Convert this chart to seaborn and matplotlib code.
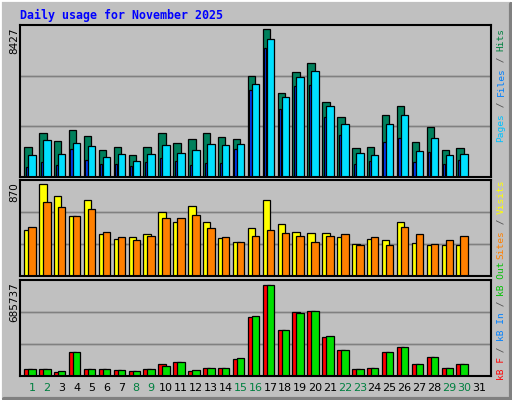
import numpy as np
import seaborn as sns
import matplotlib.pyplot as plt
from matplotlib.patches import Rectangle

days = np.arange(1, 31)
weekend_days = [1, 2, 8, 9, 15, 16, 22, 23, 29, 30]

hits = [1710, 2508, 2052, 2679, 2337, 1539, 1710, 1254, 1710, 2508, 1938, 2166, 2508, 2280, 2166,
        5757, 8427, 4788, 5985, 6498, 4275, 3420, 1653, 1710, 3534, 4047, 1995, 2850, 1539, 1653]
files = [1254, 2109, 1311, 1938, 1767, 1140, 1311, 912, 1311, 1824, 1368, 1539, 1881, 1824, 1881,
         5301, 7866, 4560, 5700, 6042, 4047, 3021, 1368, 1254, 3021, 3534, 1482, 2223, 1254, 1311]
pages = [570, 855, 684, 1596, 969, 741, 741, 627, 855, 1083, 912, 684, 798, 798, 1596,
         4959, 7353, 3876, 5187, 5244, 3420, 2394, 741, 912, 1995, 2223, 855, 1425, 741, 969]
visits = [435, 870, 757, 568, 722, 397, 350, 368, 397, 605, 511, 662, 511, 359, 322,
          454, 718, 492, 417, 407, 407, 368, 303, 350, 340, 511, 312, 293, 293, 293]
sites = [463, 700, 652, 568, 634, 417, 368, 340, 378, 548, 548, 577, 454, 368, 322,
         378, 435, 407, 378, 322, 378, 397, 293, 368, 293, 463, 397, 303, 340, 378]
kb_f = [55066, 55066, 32539, 182719, 55066, 55066, 47557, 40048, 55066, 92611, 107629, 40048, 62575, 62575, 130156,
        445534, 685737, 347917, 483079, 490588, 295354, 197737, 55066, 62575, 182719, 220264, 92611, 145174, 62575, 92611]
kb_in = [3000, 3000, 3000, 3000, 3000, 3000, 3000, 3000, 3000, 3000, 3000, 3000, 3000, 3000, 3000,
         3000, 3000, 3000, 3000, 3000, 3000, 3000, 3000, 3000, 3000, 3000, 3000, 3000, 3000, 3000]
kb_out = [55066, 55066, 40048, 182719, 55066, 55066, 47557, 40048, 55066, 77593, 107629, 47557, 62575, 62575, 137665,
          453043, 685737, 347917, 475570, 490588, 302863, 197737, 55066, 62575, 182719, 220264, 92611, 145174, 62575, 92611]

BG = "#C0C0C0"
sns.set_theme(style="white")
plt.rcParams['font.family'] = ['DejaVu Sans']

fig = plt.figure(figsize=(5.12, 4.0), dpi=100, facecolor=BG)
W, H = 512, 400

# 3D-ish frame
fig.add_artist(Rectangle((0, 0), 1, 1, transform=fig.transFigure, fill=False, edgecolor="white", lw=2))
fig.add_artist(plt.Line2D([1 - 1.5 / W, 1 - 1.5 / W], [0, 1 - 4 / H], transform=fig.transFigure, color="#808080", lw=3))
fig.add_artist(plt.Line2D([4 / W, 1], [1.5 / H, 1.5 / H], transform=fig.transFigure, color="#808080", lw=3))


def panel(top, bottom):
    ax = fig.add_axes([20 / W, 1 - bottom / H, 471 / W, (bottom - top) / H])
    ax.set_facecolor(BG)
    for s in ax.spines.values():
        s.set_color("black")
        s.set_linewidth(1.5)
    return ax


def bars(ax, vals, off, width, color):
    sns.barplot(x=days + off, y=vals, native_scale=True, width=width, color=color,
                saturation=1, edgecolor="black", linewidth=0.9, ax=ax)


def finish(ax, top):
    ax.set_xlim(0.2, 31.8)
    ax.set_ylim(0, top)
    for k in (1, 2):
        ax.axhline(top * k / 3, color="#808080", lw=1, zorder=0)
    ax.set_xticks([])
    ax.set_yticks([])
    ax.set_xlabel("")
    ax.set_ylabel("")


ax1 = panel(25, 177)
finish(ax1, 8660)
bars(ax1, hits, -0.27, 0.5, "#00805C")
bars(ax1, pages, -0.34, 0.15, "#0040FF")
bars(ax1, files, 0.0, 0.5, "#00E0FF")
finish(ax1, 8660)

ax2 = panel(180, 276)
finish(ax2, 908)
bars(ax2, visits, -0.27, 0.5, "#FFFF00")
bars(ax2, sites, 0.0, 0.5, "#FF8000")
finish(ax2, 908)

ax3 = panel(280, 376)
finish(ax3, 721000)
bars(ax3, kb_f, -0.27, 0.5, "#FF0000")
bars(ax3, kb_in, -0.34, 0.15, "#0040FF")
bars(ax3, kb_out, 0.0, 0.5, "#00E000")
finish(ax3, 721000)

# day labels
for d in range(1, 32):
    col = "#008040" if d in weekend_days else "black"
    ax3.text(d, -0.07, str(d), transform=ax3.get_xaxis_transform(), ha="center", va="top",
             fontsize=8, color=col)

fig.text(20 / W, 1 - 15 / H, "Daily usage for November 2025", family="DejaVu Sans Mono",
         fontweight="bold", fontsize=8.4, color="#0000FF", va="center", ha="left")

for y, lab in ((27, "8427"), (182, "870"), (282, "685737")):
    fig.text(14 / W, 1 - y / H, lab, rotation=90, ha="center", va="top", fontsize=7.5, color="black")

CH = 5.67


def side(y0, pieces):
    y = y0
    for s, c in pieces:
        fig.text(501 / W, 1 - y / H, s, rotation=90, ha="center", va="top", family="DejaVu Sans Mono",
                 fontsize=6.8, color=c)
        y += CH * len(s)


sl = "#505050"
side(28, [("Hits", "#008040"), (" / ", sl), ("Files", "#0080FF"), (" / ", sl), ("Pages", "#00C0FF")])
side(179, [("Visits", "#FFFF00"), (" / ", sl), ("Sites", "#FF8000")])
side(261, [("kB Out", "#00C000"), (" / ", sl), ("kB In", "#0080FF"), (" / ", sl), ("kB F", "#FF0000")])

fig.savefig("out.png", dpi=100, facecolor=BG)
